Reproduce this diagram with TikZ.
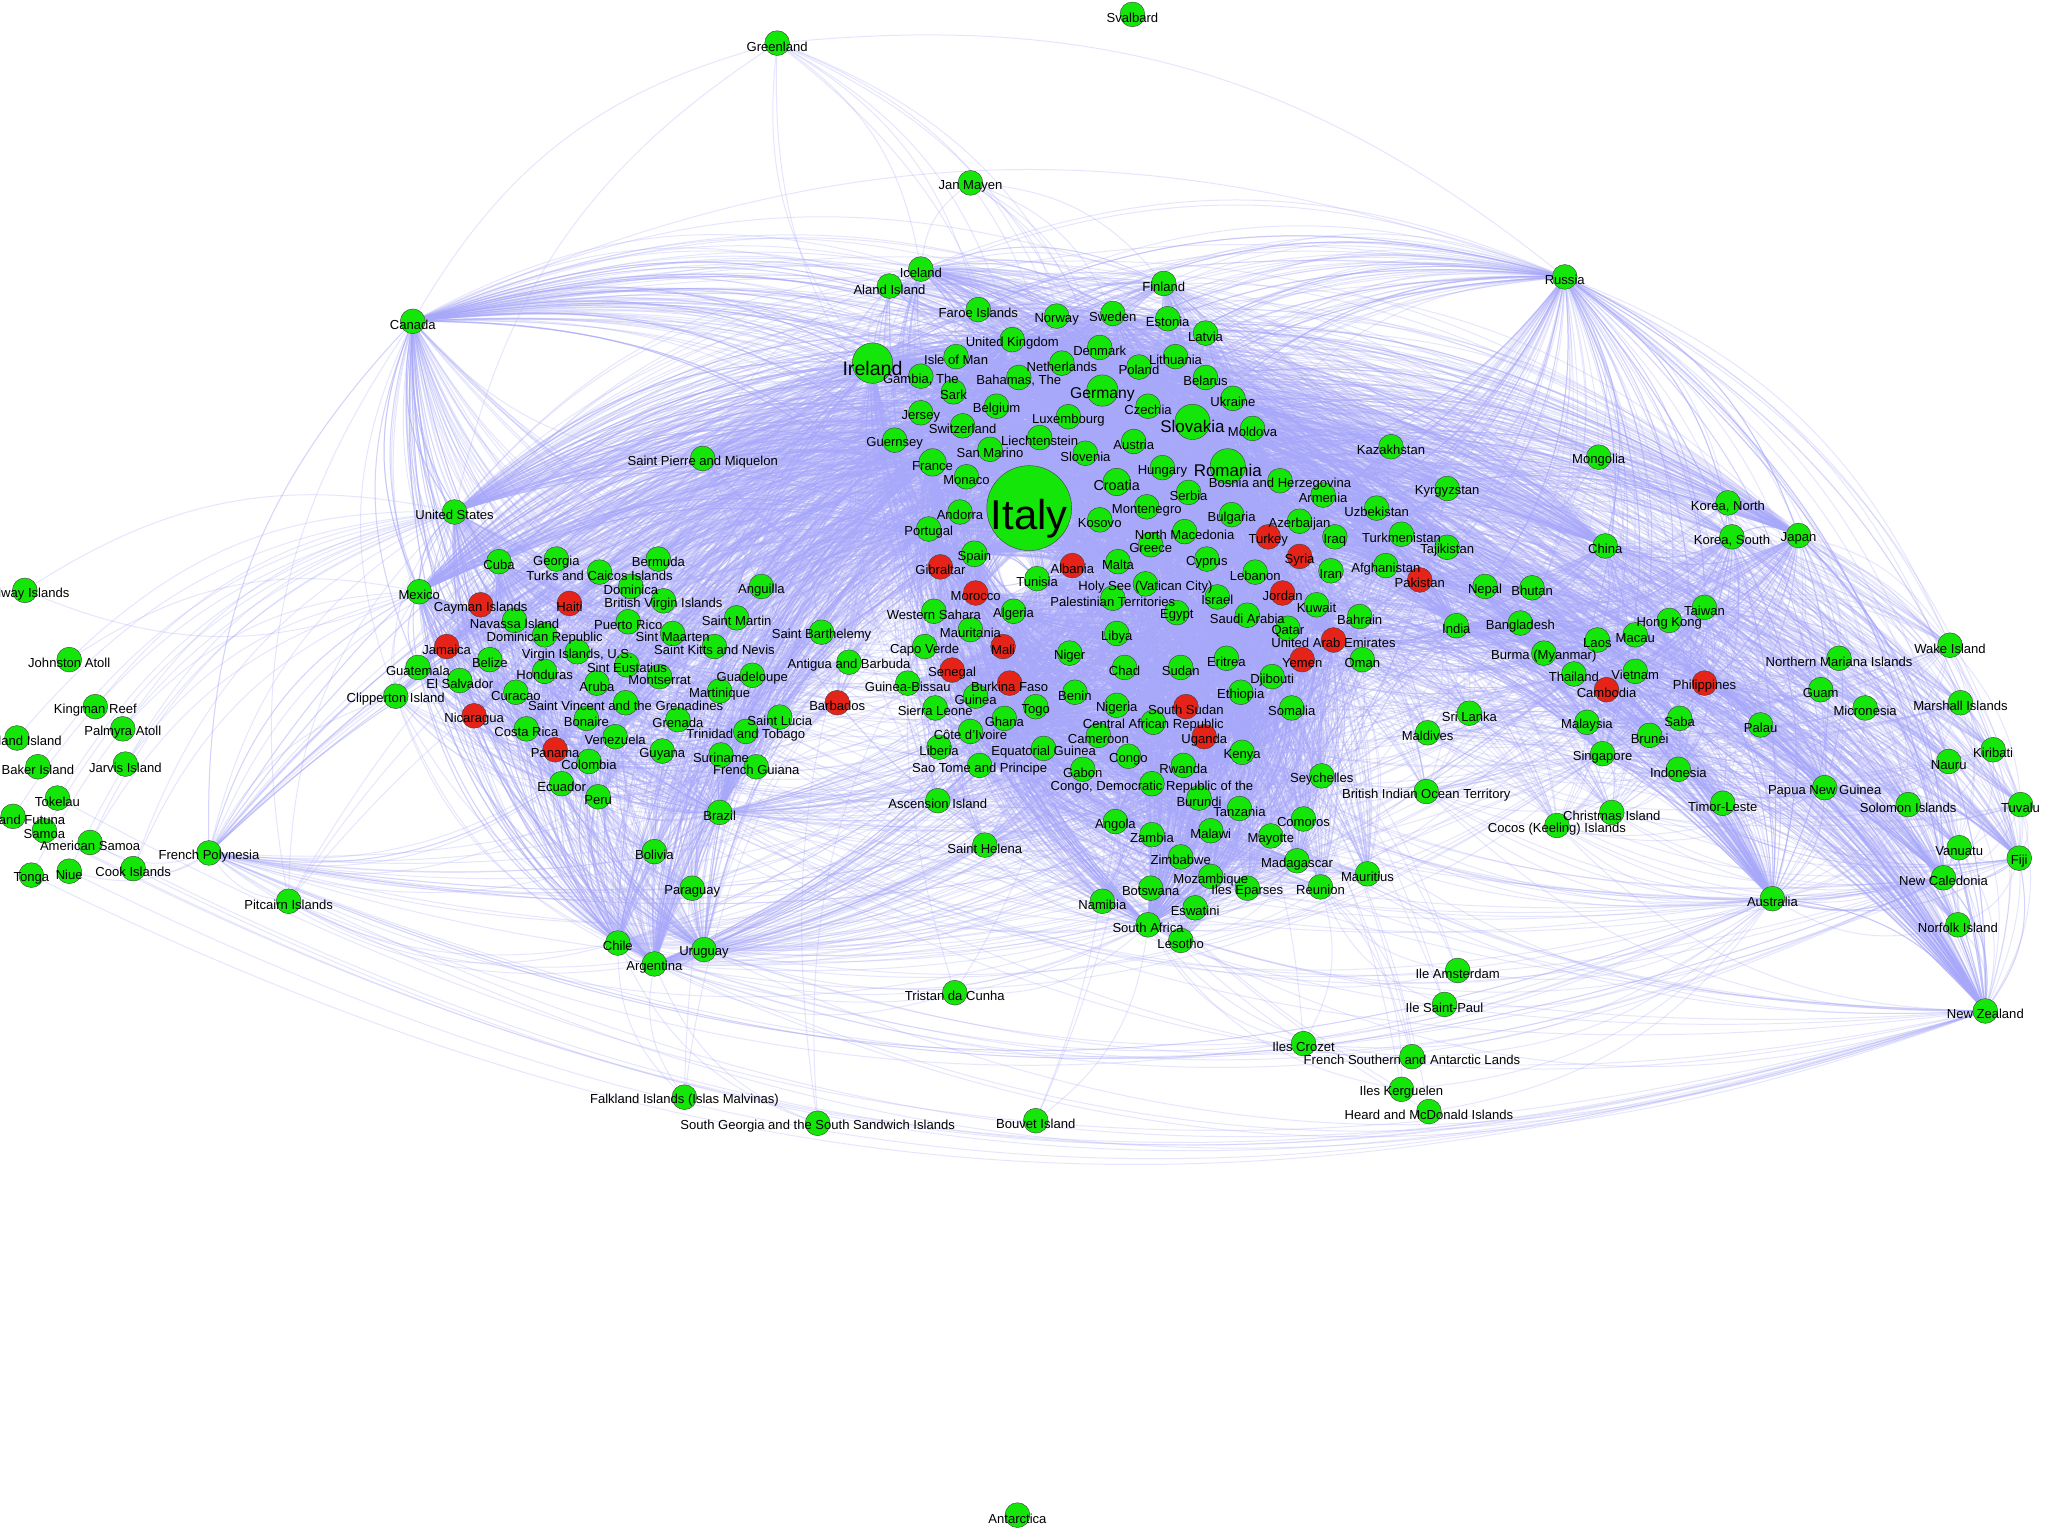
\documentclass[tikz,border=0pt]{standalone}
\usepackage{fontspec}
\setmainfont{Liberation Sans}
\pgfdeclarelayer{bg}
\pgfsetlayers{bg,main}
\definecolor{ngreen}{RGB}{20,230,10}
\definecolor{nred}{RGB}{230,35,25}
\definecolor{nedge}{RGB}{168,168,250}
\tikzset{
  circ/.style={circle,draw=black!75,line width=0.08pt,inner sep=0pt},
  gc/.style={fill=ngreen},
  rc/.style={fill=nred},
  lab/.style={inner sep=0pt,text=black},
  edges/.style={draw=nedge,draw opacity=0.29,line width=0.19pt}
}
\newtoks\labtoks
\newcommand\labnode[3]{\pgfmathsetmacro\fsz{#2/4}\node[lab,font=\fontsize{\fsz}{\fsz}\selectfont,yshift={-0.0625*#2pt}] at (#1.center) {#3};}
\newcommand\nd[7]{%
  \expandafter\def\csname nx@#1\endcsname{#2}%
  \expandafter\def\csname ny@#1\endcsname{#3}%
  \node[circ,#5,minimum size={#4*0.25pt}] (#1) at (#2,#3) {};%
  \global\labtoks\expandafter{\the\labtoks\labnode{#1}{#6}{#7}}}
\newcommand\ed[2]{%
  \edef\tmpa{#1}\edef\tmpb{#2}%
  \ifx\tmpa\tmpb\else
  \ifnum\numexpr(\csname nx@#1\endcsname-780)*(\csname ny@#2\endcsname-\csname ny@#1\endcsname)-(\csname ny@#1\endcsname-440)*(\csname nx@#2\endcsname-\csname nx@#1\endcsname)\relax>0
    \draw (#1) to[bend left=22] (#2);%
  \else
    \draw (#1) to[bend right=22] (#2);%
  \fi\fi}
\newcommand\fan[2]{\foreach \t in #2 {\ed{#1}{\t}}}
\newcommand\mesh[2]{\foreach \a in #1 {\foreach \b in #2 {\ed{\a}{\b}}}}
\def\EUR{isl,ala,fro,imn,gbr,gmb,srk,bhs,bel,jey,che,ggy,smr,lie,fra,mco,spm,adr,prt,esp,gib,fin,nor,swe,est,lva,dnk,nld,ltu,pol,blr,cze,ukr,lux,mda,aut,svn,hun,bih,srb,arm,mne,kos,bgr,aze,mkd,tur,irq,grc,syr,alb,mlt,cyp,irn,lbn,kaz,kgz,uzb,tkm,tjk,afg,pak,irl,svk,rou,deu,hrv}
\def\AFR{tun,vat,pse,isr,egy,sau,jor,kwt,bhr,qat,are,lby,ner,tcd,sdn,eri,yem,omn,dji,ben,eth,tgo,nga,ssd,som,caf,uga,cmr,gnq,ken,cog,gab,rwa,syc,cod,bdi,tza,ago,com,zmb,mwi,myt,zwe,mdg,mus,moz,bwa,eps,reu,nam,swz,zaf,lso,mar,esh,dza,mrt,mli,cpv,sen,gnb,bfa,gin,sle,gha,civ,lbr,stp,asc,shn}
\def\ASP{npl,btn,ind,bgd,lka,mdv,iot,mng,chn,prk,kor,jpn,rus,twn,hkg,mac,lao,mmr,tha,vnm,khm,phl,mys,sab,brn,sgp,idn,tls,cxr,cck,mnp,wak,gum,fsm,mhl,plw,kir,nru,png,slb,tuv,vut,fji,ncl,aus,nfk,nzl}
\def\AMR{can,usa,cub,mex,geo,bmu,tca,cym,hti,nav,dma,vgb,aia,pri,dom,sxm,maf,blm,kna,jam,blz,vir,atg,bes,hnd,gtm,slv,abw,msr,glp,mtq,cuw,cpt,vct,brb,nic,bon,grd,lca,cri,ven,tto,pan,col,guy,sur,guf,ecu,per,bra,bol,pry,chl,arg,ury}
\def\SOU{ams,spl,crz,atf,ker,hmd,bvt,tdc,pyf,pcn,flk,sgs,grl,jmn}
\def\EURCORE{irl,svk,rou,deu,hrv,fra,gbr,esp,che,aut,pol,hun,srb,cze,bel,nld}
\def\EURCORETWO{prt,swe,nor,dnk,fin,grc,tur,bgr,ukr,lux,svn,mlt,cyp,isl,mne,alb}
\def\AFRCORE{egy,mar,dza,tun,nga,zaf,ken,eth,sen,sau,are,isr,cod,gha}
\def\AFRCORETWO{lby,sdn,cmr,uga,tza,ago,moz,mdg,civ,mli,gin,jor,lbn,qat,kwt,som}
\def\AMRCORE{usa,can,mex,bra,arg,col,cub,ven,chl,per}
\def\AMRCORETWO{dom,jam,pri,ury,ecu,pan,cri,gtm,hnd,tto}
\def\ASICORE{chn,jpn,rus,ind,kor,tha,sgp,aus,nzl,ncl,idn,mys}
\def\ASICORETWO{twn,hkg,vnm,phl,png,fji,pak,tur,egy,are,sau}
\def\EURHUB{irl,svk,rou,deu,fra,gbr,esp}
\def\EURHUBTWO{hrv,che,aut,pol,hun,tur,grc,prt}
\def\EURHUBAM{hrv,che,prt,nld,bel,aut,pol}
\def\FARHUB{can,usa,rus,jpn,chn,bra,aus,nzl,zaf,ind,arg,mex}
\def\CORE{irl,svk,rou,deu,hrv,fra,gbr,esp,prt,che,tur,egy,mar,dza,isr,sau,are,nga,zaf,ken,ind,chn,jpn,rus,kor,tha,sgp,aus,nzl,ncl,can,usa,mex,bra,arg,col,cub,chl,ury,pyf}
\begin{document}
\begin{tikzpicture}[x=0.25pt,y=-0.25pt]
\useasboundingbox (0,0) rectangle (1568,1172.2);
% ---- Europe / West Asia
\nd{ita}{788}{389}{65}{gc}{32}{Italy}
\nd{irl}{668}{278}{31}{gc}{15}{Ireland}
\nd{svk}{913}{323}{27}{gc}{13}{Slovakia}
\nd{rou}{940}{357}{27}{gc}{13}{Romania}
\nd{deu}{844}{299}{24}{gc}{12}{Germany}
\nd{hrv}{855}{369}{21}{gc}{11}{Croatia}
\nd{isl}{705}{206}{19}{gc}{10}{Iceland}
\nd{ala}{681}{219}{19}{gc}{10}{Aland Island}
\nd{fro}{749}{237}{19}{gc}{10}{Faroe Islands}
\nd{imn}{732}{273}{19}{gc}{10}{Isle of Man}
\nd{gbr}{775}{260}{19}{gc}{10}{United Kingdom}
\nd{gmb}{705}{288}{19}{gc}{10}{Gambia, The}
\nd{srk}{730}{300}{19}{gc}{10}{Sark}
\nd{bhs}{780}{289}{19}{gc}{10}{Bahamas, The}
\nd{bel}{763}{311}{19}{gc}{10}{Belgium}
\nd{jey}{705}{316}{19}{gc}{10}{Jersey}
\nd{che}{737}{326}{19}{gc}{10}{Switzerland}
\nd{ggy}{685}{337}{19}{gc}{10}{Guernsey}
\nd{smr}{758}{344}{19}{gc}{10}{San Marino}
\nd{lie}{796}{335}{19}{gc}{10}{Liechtenstein}
\nd{fra}{714}{354}{21}{gc}{10}{France}
\nd{mco}{740}{365}{19}{gc}{10}{Monaco}
\nd{spm}{538}{351}{19}{gc}{10}{Saint Pierre and Miquelon}
\nd{adr}{735}{392}{19}{gc}{10}{Andorra}
\nd{prt}{711}{405}{19}{gc}{10}{Portugal}
\nd{esp}{746}{424}{20}{gc}{10}{Spain}
\nd{gib}{720}{434}{19}{rc}{10}{Gibraltar}
\nd{fin}{891}{217}{19}{gc}{10}{Finland}
\nd{nor}{809}{242}{19}{gc}{10}{Norway}
\nd{swe}{852}{240}{19}{gc}{10}{Sweden}
\nd{est}{894}{244}{19}{gc}{10}{Estonia}
\nd{lva}{923}{255}{19}{gc}{10}{Latvia}
\nd{dnk}{842}{266}{19}{gc}{10}{Denmark}
\nd{nld}{813}{278}{19}{gc}{10}{Netherlands}
\nd{ltu}{900}{273}{19}{gc}{10}{Lithuania}
\nd{pol}{872}{281}{19}{gc}{10}{Poland}
\nd{blr}{923}{289}{19}{gc}{10}{Belarus}
\nd{cze}{879}{311}{19}{gc}{10}{Czechia}
\nd{ukr}{944}{305}{19}{gc}{10}{Ukraine}
\nd{lux}{818}{319}{19}{gc}{10}{Luxembourg}
\nd{mda}{959}{328}{19}{gc}{10}{Moldova}
\nd{aut}{868}{338}{19}{gc}{10}{Austria}
\nd{svn}{831}{347}{19}{gc}{10}{Slovenia}
\nd{hun}{890}{358}{19}{gc}{10}{Hungary}
\nd{bih}{980}{368}{19}{gc}{10}{Bosnia and Herzegovina}
\nd{srb}{910}{377}{19}{gc}{10}{Serbia}
\nd{arm}{1013}{379}{19}{gc}{10}{Armenia}
\nd{mne}{878}{388}{19}{gc}{10}{Montenegro}
\nd{kos}{842}{398}{19}{gc}{10}{Kosovo}
\nd{bgr}{943}{394}{19}{gc}{10}{Bulgaria}
\nd{aze}{995}{399}{19}{gc}{10}{Azerbaijan}
\nd{mkd}{907}{407}{19}{gc}{10}{North Macedonia}
\nd{tur}{971}{411}{19}{rc}{10}{Turkey}
\nd{irq}{1022}{411}{19}{gc}{10}{Iraq}
\nd{grc}{881}{417}{19}{gc}{10}{Greece}
\nd{syr}{995}{426}{19}{rc}{10}{Syria}
\nd{alb}{821}{433}{19}{rc}{10}{Albania}
\nd{mlt}{856}{430}{19}{gc}{10}{Malta}
\nd{cyp}{924}{428}{19}{gc}{10}{Cyprus}
\nd{irn}{1019}{437}{19}{gc}{10}{Iran}
\nd{lbn}{961}{438}{19}{gc}{10}{Lebanon}
\nd{kaz}{1065}{342}{19}{gc}{10}{Kazakhstan}
\nd{kgz}{1108}{374}{19}{gc}{10}{Kyrgyzstan}
\nd{uzb}{1054}{389}{19}{gc}{10}{Uzbekistan}
\nd{tkm}{1073}{409}{19}{gc}{10}{Turkmenistan}
\nd{tjk}{1108}{419}{19}{gc}{10}{Tajikistan}
\nd{afg}{1061}{433}{19}{gc}{10}{Afghanistan}
\nd{pak}{1087}{444}{19}{rc}{10}{Pakistan}
% ---- Africa / Middle East
\nd{tun}{794}{443}{19}{gc}{10}{Tunisia}
\nd{vat}{877}{447}{19}{gc}{10}{Holy See (Vatican City)}
\nd{pse}{852}{458}{19}{gc}{10}{Palestinian Territories}
\nd{isr}{932}{457}{19}{gc}{10}{Israel}
\nd{egy}{901}{469}{19}{gc}{10}{Egypt}
\nd{sau}{955}{471}{19}{gc}{10}{Saudi Arabia}
\nd{jor}{982}{454}{19}{rc}{10}{Jordan}
\nd{kwt}{1008}{463}{19}{gc}{10}{Kuwait}
\nd{bhr}{1041}{472}{19}{gc}{10}{Bahrain}
\nd{qat}{986}{481}{19}{gc}{10}{Qatar}
\nd{are}{1021}{490}{19}{rc}{10}{United Arab Emirates}
\nd{lby}{855}{485}{19}{gc}{10}{Libya}
\nd{ner}{819}{500}{19}{gc}{10}{Niger}
\nd{tcd}{861}{511}{19}{gc}{10}{Chad}
\nd{sdn}{904}{511}{19}{gc}{10}{Sudan}
\nd{eri}{939}{504}{19}{gc}{10}{Eritrea}
\nd{yem}{997}{505}{19}{rc}{10}{Yemen}
\nd{omn}{1043}{505}{19}{gc}{10}{Oman}
\nd{dji}{974}{518}{19}{gc}{10}{Djibouti}
\nd{ben}{823}{530}{19}{gc}{10}{Benin}
\nd{eth}{950}{530}{19}{gc}{10}{Ethiopia}
\nd{tgo}{793}{541}{19}{gc}{10}{Togo}
\nd{nga}{855}{540}{19}{gc}{10}{Nigeria}
\nd{ssd}{908}{541}{19}{rc}{10}{South Sudan}
\nd{som}{989}{542}{19}{gc}{10}{Somalia}
\nd{caf}{883}{553}{19}{gc}{10}{Central African Republic}
\nd{uga}{922}{564}{19}{rc}{10}{Uganda}
\nd{cmr}{841}{563}{19}{gc}{10}{Cameroon}
\nd{gnq}{799}{573}{19}{gc}{10}{Equatorial Guinea}
\nd{ken}{951}{576}{19}{gc}{10}{Kenya}
\nd{cog}{864}{579}{19}{gc}{10}{Congo}
\nd{gab}{829}{589}{19}{gc}{10}{Gabon}
\nd{rwa}{906}{586}{19}{gc}{10}{Rwanda}
\nd{syc}{1012}{594}{19}{gc}{10}{Seychelles}
\nd{cod}{882}{600}{19}{gc}{10}{Congo, Democratic Republic of the}
\nd{bdi}{918}{611}{19}{gc}{10}{Burundi}
\nd{tza}{949}{619}{19}{gc}{10}{Tanzania}
\nd{ago}{854}{629}{19}{gc}{10}{Angola}
\nd{com}{998}{627}{19}{gc}{10}{Comoros}
\nd{zmb}{882}{639}{19}{gc}{10}{Zambia}
\nd{mwi}{927}{636}{19}{gc}{10}{Malawi}
\nd{myt}{973}{640}{19}{gc}{10}{Mayotte}
\nd{zwe}{904}{656}{19}{gc}{10}{Zimbabwe}
\nd{mdg}{993}{659}{19}{gc}{10}{Madagascar}
\nd{mus}{1047}{669}{19}{gc}{10}{Mauritius}
\nd{moz}{927}{671}{19}{gc}{10}{Mozambique}
\nd{bwa}{881}{680}{19}{gc}{10}{Botswana}
\nd{eps}{955}{680}{19}{gc}{10}{Iles Eparses}
\nd{reu}{1011}{679}{19}{gc}{10}{Reunion}
\nd{nam}{844}{690}{19}{gc}{10}{Namibia}
\nd{swz}{915}{695}{19}{gc}{10}{Eswatini}
\nd{zaf}{879}{708}{19}{gc}{10}{South Africa}
\nd{lso}{904}{720}{19}{gc}{10}{Lesotho}
\nd{mar}{747}{454}{19}{rc}{10}{Morocco}
\nd{esh}{715}{468}{19}{gc}{10}{Western Sahara}
\nd{dza}{776}{468}{19}{gc}{10}{Algeria}
\nd{mrt}{743}{482}{19}{gc}{10}{Mauritania}
\nd{mli}{768}{495}{19}{rc}{10}{Mali}
\nd{cpv}{708}{495}{19}{gc}{10}{Capo Verde}
\nd{sen}{729}{513}{19}{rc}{10}{Senegal}
\nd{gnb}{695}{523}{19}{gc}{10}{Guinea-Bissau}
\nd{bfa}{773}{523}{19}{rc}{10}{Burkina Faso}
\nd{gin}{747}{533}{19}{gc}{10}{Guinea}
\nd{sle}{716}{542}{19}{gc}{10}{Sierra Leone}
\nd{gha}{769}{550}{19}{gc}{10}{Ghana}
\nd{civ}{743}{560}{19}{gc}{10}{Côte d'Ivoire}
\nd{lbr}{719}{572}{19}{gc}{10}{Liberia}
\nd{stp}{750}{586}{19}{gc}{10}{Sao Tome and Principe}
\nd{asc}{718}{613}{19}{gc}{10}{Ascension Island}
\nd{shn}{754}{647}{19}{gc}{10}{Saint Helena}
\nd{tdc}{731}{760}{19}{gc}{10}{Tristan da Cunha}
% ---- Asia
\nd{npl}{1137}{449}{19}{gc}{10}{Nepal}
\nd{btn}{1173}{450}{19}{gc}{10}{Bhutan}
\nd{ind}{1115}{479}{19}{gc}{10}{India}
\nd{bgd}{1164}{477}{19}{gc}{10}{Bangladesh}
\nd{lka}{1125}{546}{19}{gc}{10}{Sri Lanka}
\nd{mdv}{1093}{561}{19}{gc}{10}{Maldives}
\nd{iot}{1092}{606}{19}{gc}{10}{British Indian Ocean Territory}
\nd{mng}{1224}{350}{19}{gc}{10}{Mongolia}
\nd{chn}{1229}{418}{19}{gc}{10}{China}
\nd{prk}{1323}{385}{19}{gc}{10}{Korea, North}
\nd{kor}{1326}{411}{19}{gc}{10}{Korea, South}
\nd{jpn}{1377}{410}{19}{gc}{10}{Japan}
\nd{rus}{1198}{212}{19}{gc}{10}{Russia}
\nd{twn}{1305}{465}{19}{gc}{10}{Taiwan}
\nd{hkg}{1278}{475}{19}{gc}{10}{Hong Kong}
\nd{mac}{1252}{486}{19}{gc}{10}{Macau}
\nd{lao}{1223}{490}{19}{gc}{10}{Laos}
\nd{mmr}{1182}{500}{19}{gc}{10}{Burma (Myanmar)}
\nd{tha}{1205}{516}{19}{gc}{10}{Thailand}
\nd{vnm}{1252}{514}{19}{gc}{10}{Vietnam}
\nd{khm}{1230}{528}{19}{rc}{10}{Cambodia}
\nd{phl}{1305}{523}{19}{rc}{10}{Philippines}
\nd{mys}{1215}{553}{19}{gc}{10}{Malaysia}
\nd{sab}{1286}{550}{19}{gc}{10}{Saba}
\nd{brn}{1263}{563}{19}{gc}{10}{Brunei}
\nd{sgp}{1227}{577}{19}{gc}{10}{Singapore}
\nd{idn}{1285}{589}{19}{gc}{10}{Indonesia}
\nd{tls}{1319}{615}{19}{gc}{10}{Timor-Leste}
\nd{cxr}{1234}{622}{19}{gc}{10}{Christmas Island}
\nd{cck}{1192}{632}{19}{gc}{10}{Cocos (Keeling) Islands}
% ---- West Pacific / Oceania
\nd{mnp}{1408}{504}{19}{gc}{10}{Northern Mariana Islands}
\nd{wak}{1493}{494}{19}{gc}{10}{Wake Island}
\nd{gum}{1394}{528}{19}{gc}{10}{Guam}
\nd{fsm}{1428}{542}{19}{gc}{10}{Micronesia}
\nd{mhl}{1501}{538}{19}{gc}{10}{Marshall Islands}
\nd{plw}{1348}{555}{19}{gc}{10}{Palau}
\nd{kir}{1526}{574}{19}{gc}{10}{Kiribati}
\nd{nru}{1492}{583}{19}{gc}{10}{Nauru}
\nd{png}{1397}{603}{19}{gc}{10}{Papua New Guinea}
\nd{slb}{1461}{616}{19}{gc}{10}{Solomon Islands}
\nd{tuv}{1547}{616}{19}{gc}{10}{Tuvalu}
\nd{vut}{1500}{649}{19}{gc}{10}{Vanuatu}
\nd{fji}{1546}{657}{19}{gc}{10}{Fiji}
\nd{ncl}{1488}{672}{19}{gc}{10}{New Caledonia}
\nd{aus}{1357}{688}{19}{gc}{10}{Australia}
\nd{nfk}{1499}{708}{19}{gc}{10}{Norfolk Island}
\nd{nzl}{1520}{774}{19}{gc}{10}{New Zealand}
% ---- Americas
\nd{can}{316}{246}{19}{gc}{10}{Canada}
\nd{usa}{348}{392}{19}{gc}{10}{United States}
\nd{cub}{382}{430}{19}{gc}{10}{Cuba}
\nd{mex}{321}{453}{19}{gc}{10}{Mexico}
\nd{geo}{426}{428}{19}{gc}{10}{Georgia}
\nd{bmu}{504}{428}{19}{gc}{10}{Bermuda}
\nd{tca}{459}{438}{19}{gc}{10}{Turks and Caicos Islands}
\nd{cym}{368}{463}{19}{rc}{10}{Cayman Islands}
\nd{hti}{436}{462}{19}{rc}{10}{Haiti}
\nd{nav}{394}{475}{19}{gc}{10}{Navassa Island}
\nd{dma}{483}{449}{19}{gc}{10}{Dominica}
\nd{vgb}{508}{460}{19}{gc}{10}{British Virgin Islands}
\nd{aia}{583}{449}{19}{gc}{10}{Anguilla}
\nd{pri}{481}{476}{19}{gc}{10}{Puerto Rico}
\nd{dom}{417}{486}{19}{gc}{10}{Dominican Republic}
\nd{sxm}{515}{485}{19}{gc}{10}{Sint Maarten}
\nd{maf}{564}{473}{19}{gc}{10}{Saint Martin}
\nd{blm}{629}{484}{19}{gc}{10}{Saint Barthelemy}
\nd{kna}{547}{495}{19}{gc}{10}{Saint Kitts and Nevis}
\nd{jam}{342}{495}{19}{rc}{10}{Jamaica}
\nd{blz}{375}{505}{19}{gc}{10}{Belize}
\nd{vir}{442}{499}{19}{gc}{10}{Virgin Islands, U.S.}
\nd{atg}{650}{507}{19}{gc}{10}{Antigua and Barbuda}
\nd{bes}{480}{509}{19}{gc}{10}{Sint Eustatius}
\nd{hnd}{417}{514}{19}{gc}{10}{Honduras}
\nd{gtm}{320}{511}{19}{gc}{10}{Guatemala}
\nd{slv}{352}{521}{19}{gc}{10}{El Salvador}
\nd{abw}{457}{523}{19}{gc}{10}{Aruba}
\nd{msr}{505}{518}{19}{gc}{10}{Montserrat}
\nd{glp}{576}{517}{19}{gc}{10}{Guadeloupe}
\nd{mtq}{551}{529}{19}{gc}{10}{Martinique}
\nd{cuw}{395}{530}{19}{gc}{10}{Curacao}
\nd{cpt}{303}{533}{19}{gc}{10}{Clipperton Island}
\nd{vct}{479}{538}{19}{gc}{10}{Saint Vincent and the Grenadines}
\nd{brb}{641}{538}{19}{rc}{10}{Barbados}
\nd{nic}{363}{548}{19}{rc}{10}{Nicaragua}
\nd{bon}{449}{550}{19}{gc}{10}{Bonaire}
\nd{grd}{519}{551}{19}{gc}{10}{Grenada}
\nd{lca}{597}{549}{19}{gc}{10}{Saint Lucia}
\nd{cri}{403}{558}{19}{gc}{10}{Costa Rica}
\nd{ven}{471}{564}{19}{gc}{10}{Venezuela}
\nd{tto}{571}{560}{19}{gc}{10}{Trinidad and Tobago}
\nd{pan}{425}{574}{19}{rc}{10}{Panama}
\nd{col}{451}{583}{19}{gc}{10}{Colombia}
\nd{guy}{507}{575}{19}{gc}{10}{Guyana}
\nd{sur}{552}{578}{19}{gc}{10}{Suriname}
\nd{guf}{579}{587}{19}{gc}{10}{French Guiana}
\nd{ecu}{430}{600}{19}{gc}{10}{Ecuador}
\nd{per}{458}{610}{19}{gc}{10}{Peru}
\nd{bra}{551}{622}{19}{gc}{10}{Brazil}
\nd{bol}{501}{652}{19}{gc}{10}{Bolivia}
\nd{pry}{530}{680}{19}{gc}{10}{Paraguay}
\nd{chl}{473}{722}{19}{gc}{10}{Chile}
\nd{arg}{501}{738}{19}{gc}{10}{Argentina}
\nd{ury}{539}{727}{19}{gc}{10}{Uruguay}
\nd{flk}{524}{840}{19}{gc}{10}{Falkland Islands (Islas Malvinas)}
\nd{sgs}{626}{860}{19}{gc}{10}{South Georgia and the South Sandwich Islands}
\nd{grl}{595}{33}{19}{gc}{10}{Greenland}
% ---- East Pacific
\nd{mid}{19}{452}{19}{gc}{10}{Midway Islands}
\nd{jnt}{53}{505}{19}{gc}{10}{Johnston Atoll}
\nd{kgr}{73}{541}{19}{gc}{10}{Kingman Reef}
\nd{pmy}{94}{558}{19}{gc}{10}{Palmyra Atoll}
\nd{how}{13}{565}{19}{gc}{10}{Howland Island}
\nd{bkr}{29}{587}{19}{gc}{10}{Baker Island}
\nd{jrv}{96}{585}{19}{gc}{10}{Jarvis Island}
\nd{tkl}{44}{611}{19}{gc}{10}{Tokelau}
\nd{wlf}{10}{625}{19}{gc}{10}{Wallis and Futuna}
\nd{wsm}{34}{636}{19}{gc}{10}{Samoa}
\nd{asm}{69}{645}{19}{gc}{10}{American Samoa}
\nd{pyf}{160}{653}{19}{gc}{10}{French Polynesia}
\nd{ton}{24}{670}{19}{gc}{10}{Tonga}
\nd{niu}{53}{667}{19}{gc}{10}{Niue}
\nd{cok}{102}{665}{19}{gc}{10}{Cook Islands}
\nd{pcn}{221}{690}{19}{gc}{10}{Pitcairn Islands}
% ---- Southern / polar
\nd{ams}{1116}{743}{19}{gc}{10}{Ile Amsterdam}
\nd{spl}{1106}{769}{19}{gc}{10}{Ile Saint-Paul}
\nd{crz}{998}{799}{19}{gc}{10}{Iles Crozet}
\nd{atf}{1081}{809}{19}{gc}{10}{French Southern and Antarctic Lands}
\nd{ker}{1073}{834}{19}{gc}{10}{Iles Kerguelen}
\nd{hmd}{1094}{851}{19}{gc}{10}{Heard and McDonald Islands}
\nd{bvt}{793}{858}{19}{gc}{10}{Bouvet Island}
\nd{ata}{779}{1160}{19}{gc}{10}{Antarctica}
\nd{sjm}{867}{11}{19}{gc}{10}{Svalbard}
\nd{jmn}{743}{140}{19}{gc}{10}{Jan Mayen}
% ---- labels on top of all circles
\the\labtoks
% ---- connectors, behind everything
\begin{pgfonlayer}{bg}
\fill[white] (0,0) rectangle (1568,1172.2);
\begin{scope}[edges]
\fan{ita}{\EUR}
\fan{ita}{\AFR}
\fan{ita}{\ASP}
\fan{ita}{\AMR}
\fan{ita}{\SOU}
\foreach \a [count=\i] in \CORE {\foreach \b [count=\j] in \CORE {\ifnum\j>\i\relax\ed{\a}{\b}\fi}}
\mesh{\EUR}{\EURCORE}
\mesh{\EUR}{\EURCORETWO}
\mesh{\EUR}{\FARHUB}
\mesh{\EUR}{\AFRCORE}
\mesh{\AFR}{\AFRCORE}
\mesh{\AFR}{\AFRCORETWO}
\mesh{\AFR}{\EURHUB}
\mesh{\AFR}{\EURHUBTWO}
\mesh{\AMR}{\AMRCORE}
\mesh{\AMR}{\AMRCORETWO}
\mesh{\AMR}{\EURHUB}
\mesh{\AMR}{\EURHUBAM}
\mesh{\ASP}{\ASICORE}
\mesh{\ASP}{\ASICORETWO}
\mesh{\ASP}{\EURHUB}
\fan{esp}{{alb,mlt,tun,grc,cyp,vat,lby,pse,kos}}
\fan{mar}{{alb,mlt,grc,cyp,kos,vat,mne}}
\fan{gib}{{alb,mlt,tun,vat,pse,lby}}
\fan{prt}{{alb,mlt,tun,vat}}
\fan{usa}{{mid,jnt,kgr,pmy,how,bkr,jrv,tkl,wlf,wsm,asm,ton,niu,cok,pcn}}
\fan{mex}{{mid,jnt,pmy,jrv,asm,cok}}
\fan{nzl}{{tkl,wlf,wsm,asm,ton,niu,cok,pcn}}
\fan{pyf}{{cok,niu,asm,pcn,mex,can,per,ecu,col,ven,cpt,ncl,aus,fji,jpn,chn,gbr,fra,deu,esp,irl,svk,rou}}
\fan{pcn}{{gbr,aus,fra,can,chl}}
\fan{fra}{{ams,spl,crz,atf,ker,hmd,reu,mus}}
\fan{aus}{{ams,spl,crz,atf,ker,hmd}}
\fan{zaf}{{ams,crz,atf,ker,bvt,tdc}}
\fan{reu}{{ams,spl,crz,atf,ker}}
\fan{nor}{{bvt,jmn,grl}}
\fan{gbr}{{tdc,shn,asc,flk,sgs,grl}}
\fan{arg}{{flk,sgs,tdc}}
\fan{chl}{{flk,sgs}}
\fan{grl}{{can,usa,isl,fro,dnk,irl,deu,fra,rus}}
\fan{jmn}{{isl,dnk,swe,fin,deu}}
\end{scope}
\end{pgfonlayer}
\end{tikzpicture}
\end{document}
